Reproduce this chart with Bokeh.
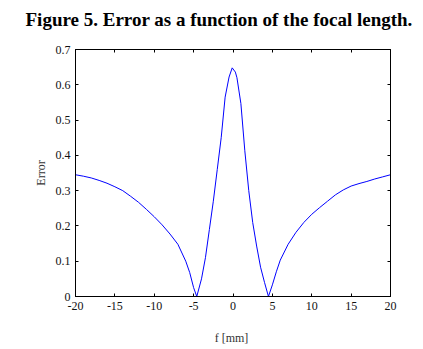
from bokeh.plotting import figure
from bokeh.models import LinearAxis, Range1d, FixedTicker, CustomLabelingPolicy
from bokeh.embed import file_html
from bokeh.resources import INLINE

# data
f_mm = [-20, -19, -18, -17, -16, -15, -14, -13, -12, -11, -10, -9, -8, -7, -6,
        -5.5, -5, -4.6, -4, -3.5, -3, -2.5, -2, -1.5, -1, -0.5, -0.1, 0.3, 0.5,
        1, 1.5, 2, 2.5, 3, 3.5, 4, 4.5, 5, 5.5, 6, 7, 8, 9, 10, 11, 12, 13, 14,
        15, 16, 17, 18, 19, 20]
error = [0.345, 0.341, 0.336, 0.329, 0.321, 0.311, 0.300, 0.284, 0.267, 0.247,
         0.226, 0.203, 0.177, 0.148, 0.100, 0.068, 0.025, 0.0, 0.05, 0.11, 0.19,
         0.27, 0.36, 0.45, 0.565, 0.622, 0.648, 0.636, 0.62, 0.547, 0.413, 0.30,
         0.21, 0.143, 0.083, 0.04, 0.0, 0.033, 0.070, 0.103, 0.148, 0.182, 0.210,
         0.233, 0.252, 0.270, 0.288, 0.302, 0.313, 0.320, 0.326, 0.333, 0.339,
         0.345]
x_ticks = [-20, -15, -10, -5, 0, 5, 10, 15, 20]
y_ticks = [0, 0.1, 0.2, 0.3, 0.4, 0.5, 0.6, 0.7]

title_text = "Figure 5. Error as a function of the focal length."
x_label = "f  [mm]"
y_label = "Error"

SERIF = "Liberation Serif"

p = figure(width=423, height=349, output_backend="svg", toolbar_location=None,
           x_range=Range1d(-20, 20), y_range=Range1d(0, 0.7),
           min_border_left=75, min_border_right=33, min_border_top=49,
           min_border_bottom=53)
p.background_fill_color = "white"
p.border_fill_color = "white"
p.outline_line_color = "black"
p.xgrid.visible = False
p.ygrid.visible = False

p.title.text = title_text
p.title.align = "left"
p.title.offset = -50
p.title.text_font = SERIF
p.title.text_font_size = "19px"
p.title.text_font_style = "bold"
p.title.text_color = "black"

p.line(f_mm, error, line_color="#0000ff", line_width=1)

no_labels = CustomLabelingPolicy(code="for (const i of indices) { if (false) yield i }")

def style_axis(ax, ticks, show_labels):
    ax.ticker = FixedTicker(ticks=ticks)
    ax.major_tick_in = 3
    ax.major_tick_out = 0
    ax.minor_tick_line_color = None
    ax.axis_line_color = "black"
    ax.major_tick_line_color = "black"
    if show_labels:
        ax.major_label_text_font = SERIF
        ax.major_label_text_font_size = "12px"
        ax.major_label_text_color = "#111111"
        ax.axis_label_text_font = SERIF
        ax.axis_label_text_font_size = "12px"
        ax.axis_label_text_font_style = "normal"
        ax.axis_label_text_color = "#333333"
    else:
        ax.major_label_policy = no_labels

xa = p.xaxis[0]
style_axis(xa, x_ticks, True)
xa.axis_label = x_label
xa.major_label_standoff = 5
xa.axis_label_standoff = 18
xa.major_label_overrides = {v: str(v) for v in x_ticks}

ya = p.yaxis[0]
style_axis(ya, y_ticks, True)
ya.axis_label = y_label
ya.major_label_standoff = 5
ya.axis_label_standoff = 5
ya.major_label_overrides = {0: "0"}

top = LinearAxis()
style_axis(top, x_ticks, False)
top.major_label_standoff = 4
p.add_layout(top, "above")
right = LinearAxis()
style_axis(right, y_ticks, False)
right.major_label_standoff = 0
p.add_layout(right, "right")

open("out.html", "w").write(file_html(p, INLINE))
